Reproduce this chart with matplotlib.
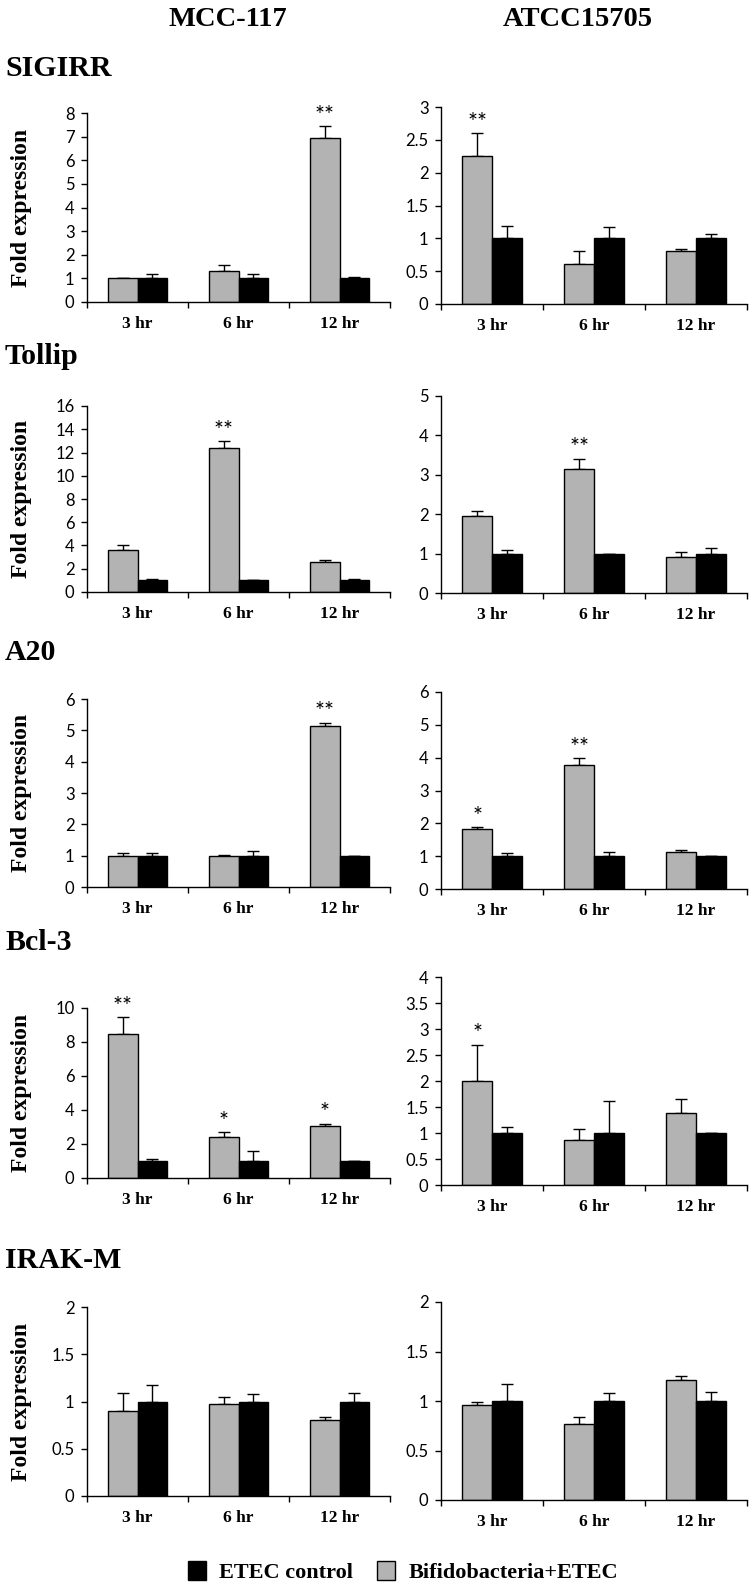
import numpy as np
import matplotlib
matplotlib.use("Agg")
import matplotlib.pyplot as plt
from matplotlib.patches import Patch
from matplotlib.ticker import FormatStrFormatter, MultipleLocator

# время отбора проб
timepoints = ["3 hr", "6 hr", "12 hr"]
genes = ["SIGIRR", "Tollip", "A20", "Bcl-3", "IRAK-M"]
strains = ["MCC-117", "ATCC15705"]

# SIGIRR
sigirr_mcc_bifido = [1.0, 1.33, 6.94]
sigirr_mcc_bifido_err = [0.0, 0.25, 0.5]
sigirr_mcc_etec = [1.0, 1.0, 1.0]
sigirr_mcc_etec_err = [0.2, 0.18, 0.06]
sigirr_mcc_stars = ["", "", "**"]
sigirr_atcc_bifido = [2.26, 0.61, 0.81]
sigirr_atcc_bifido_err = [0.34, 0.2, 0.03]
sigirr_atcc_etec = [1.0, 1.0, 1.0]
sigirr_atcc_etec_err = [0.19, 0.18, 0.07]
sigirr_atcc_stars = ["**", "", ""]

# Tollip
tollip_mcc_bifido = [3.6, 12.4, 2.54]
tollip_mcc_bifido_err = [0.43, 0.57, 0.2]
tollip_mcc_etec = [1.0, 1.0, 1.0]
tollip_mcc_etec_err = [0.08, 0.0, 0.14]
tollip_mcc_stars = ["", "**", ""]
tollip_atcc_bifido = [1.95, 3.14, 0.91]
tollip_atcc_bifido_err = [0.13, 0.27, 0.12]
tollip_atcc_etec = [1.0, 1.0, 1.0]
tollip_atcc_etec_err = [0.08, 0.0, 0.14]
tollip_atcc_stars = ["", "**", ""]

# A20
a20_mcc_bifido = [1.0, 0.98, 5.14]
a20_mcc_bifido_err = [0.1, 0.03, 0.11]
a20_mcc_etec = [1.0, 1.0, 1.0]
a20_mcc_etec_err = [0.08, 0.15, 0.0]
a20_mcc_stars = ["", "", "**"]
a20_atcc_bifido = [1.84, 3.79, 1.14]
a20_atcc_bifido_err = [0.04, 0.19, 0.05]
a20_atcc_etec = [1.0, 1.0, 1.0]
a20_atcc_etec_err = [0.09, 0.14, 0.0]
a20_atcc_stars = ["*", "**", ""]

# Bcl-3
bcl3_mcc_bifido = [8.45, 2.42, 3.03]
bcl3_mcc_bifido_err = [1.02, 0.28, 0.17]
bcl3_mcc_etec = [1.0, 1.0, 1.0]
bcl3_mcc_etec_err = [0.12, 0.6, 0.0]
bcl3_mcc_stars = ["**", "*", "*"]
bcl3_atcc_bifido = [2.0, 0.87, 1.39]
bcl3_atcc_bifido_err = [0.7, 0.2, 0.27]
bcl3_atcc_etec = [1.0, 1.0, 1.0]
bcl3_atcc_etec_err = [0.12, 0.61, 0.0]
bcl3_atcc_stars = ["*", "", ""]

# IRAK-M
irakm_mcc_bifido = [0.9, 0.97, 0.8]
irakm_mcc_bifido_err = [0.19, 0.08, 0.04]
irakm_mcc_etec = [1.0, 1.0, 1.0]
irakm_mcc_etec_err = [0.17, 0.08, 0.09]
irakm_mcc_stars = ["", "", ""]
irakm_atcc_bifido = [0.96, 0.77, 1.21]
irakm_atcc_bifido_err = [0.03, 0.07, 0.04]
irakm_atcc_etec = [1.0, 1.0, 1.0]
irakm_atcc_etec_err = [0.17, 0.08, 0.09]
irakm_atcc_stars = ["", "", ""]

# пределы и шаг оси y: (max, step)
ylims_mcc = [(8, 1), (16, 2), (6, 1), (10, 2), (2, 0.5)]
ylims_atcc = [(3, 0.5), (5, 1), (6, 1), (4, 0.5), (2, 0.5)]

panels = [
    [(sigirr_mcc_bifido, sigirr_mcc_bifido_err, sigirr_mcc_etec, sigirr_mcc_etec_err, sigirr_mcc_stars),
     (sigirr_atcc_bifido, sigirr_atcc_bifido_err, sigirr_atcc_etec, sigirr_atcc_etec_err, sigirr_atcc_stars)],
    [(tollip_mcc_bifido, tollip_mcc_bifido_err, tollip_mcc_etec, tollip_mcc_etec_err, tollip_mcc_stars),
     (tollip_atcc_bifido, tollip_atcc_bifido_err, tollip_atcc_etec, tollip_atcc_etec_err, tollip_atcc_stars)],
    [(a20_mcc_bifido, a20_mcc_bifido_err, a20_mcc_etec, a20_mcc_etec_err, a20_mcc_stars),
     (a20_atcc_bifido, a20_atcc_bifido_err, a20_atcc_etec, a20_atcc_etec_err, a20_atcc_stars)],
    [(bcl3_mcc_bifido, bcl3_mcc_bifido_err, bcl3_mcc_etec, bcl3_mcc_etec_err, bcl3_mcc_stars),
     (bcl3_atcc_bifido, bcl3_atcc_bifido_err, bcl3_atcc_etec, bcl3_atcc_etec_err, bcl3_atcc_stars)],
    [(irakm_mcc_bifido, irakm_mcc_bifido_err, irakm_mcc_etec, irakm_mcc_etec_err, irakm_mcc_stars),
     (irakm_atcc_bifido, irakm_atcc_bifido_err, irakm_atcc_etec, irakm_atcc_etec_err, irakm_atcc_stars)],
]

W, H = 756, 1590
SERIF = ["Liberation Serif", "DejaVu Serif"]
SANS = ["Lato", "DejaVu Sans"]
GRAY = "#b3b3b3"

# положение осей в пикселях: (лево, право), (верх, низ)
cols_px = [(87, 390), (441, 747)]
rows_px = [
    [(113, 302), (107, 304)],
    [(406, 592), (396, 593)],
    [(699, 887), (692, 889)],
    [(1008, 1178), (977, 1185)],
    [(1307, 1496), (1302, 1500)],
]
title_y = [68, 357, 652, 943, 1260]
col_title_x = [228, 578]

fig = plt.figure(figsize=(W / 100, H / 100), dpi=100)

for c, name in enumerate(strains):
    fig.text(col_title_x[c] / W, 1 - 20 / H, name, family=SERIF, weight="bold",
             fontsize=20.5, ha="center", va="center")

x = np.arange(len(timepoints)) + 0.5
bw = 0.29

for r, gene in enumerate(genes):
    fig.text(5 / W, 1 - title_y[r] / H, gene, family=SERIF, weight="bold",
             fontsize=21.5, ha="left", va="center")
    for c in range(2):
        (l, rr), (t, b) = cols_px[c], rows_px[r][c]
        ax = fig.add_axes([l / W, 1 - b / H, (rr - l) / W, (b - t) / H])
        bif, bif_err, etec, etec_err, stars = panels[r][c]
        ymax, step = (ylims_mcc if c == 0 else ylims_atcc)[r]

        ax.bar(x - bw / 2, bif, bw, color=GRAY, edgecolor="black", linewidth=1, zorder=2)
        ax.bar(x + bw / 2, etec, bw, color="black", edgecolor="black", linewidth=1, zorder=2)
        ax.errorbar(x - bw / 2, bif, yerr=[np.zeros(3), bif_err], fmt="none",
                    ecolor="black", elinewidth=1, capsize=4.5, capthick=1, zorder=1)
        ax.errorbar(x + bw / 2, etec, yerr=[np.zeros(3), etec_err], fmt="none",
                    ecolor="black", elinewidth=1, capsize=4.5, capthick=1, zorder=1)

        # звездочки значимости над столбцами
        for i, s in enumerate(stars):
            if s:
                ax.annotate(s, (x[i] - bw / 2, bif[i] + bif_err[i]), xytext=(0, 3),
                            textcoords="offset points", ha="center", va="baseline",
                            family=SANS, fontsize=17)

        ax.set_xlim(0, 3)
        ax.set_ylim(0, ymax)
        ax.yaxis.set_major_locator(MultipleLocator(step))
        ax.yaxis.set_major_formatter(FormatStrFormatter("%g"))
        ax.set_xticks([0, 1, 2, 3])
        ax.set_xticklabels([])
        ax.set_xticks(x, minor=True)
        ax.set_xticklabels(timepoints, minor=True, family=SERIF, weight="bold", fontsize=12.5)
        ax.tick_params(axis="x", which="minor", length=0, pad=10)
        ax.tick_params(axis="x", which="major", length=4, width=1, direction="out")
        ax.tick_params(axis="y", length=4, width=1, direction="out", pad=5, labelsize=12)
        for lab in ax.get_yticklabels():
            lab.set_family(SANS)
        for side in ["top", "right"]:
            ax.spines[side].set_visible(False)
        for side in ["left", "bottom"]:
            ax.spines[side].set_linewidth(1)

        if c == 0:
            fig.text(22 / W, 1 - (t + b) / 2 / H, "Fold expression", family=SERIF,
                     weight="bold", fontsize=17, rotation=90, ha="center", va="center")

handles = [Patch(facecolor="black", edgecolor="black", label="ETEC control"),
           Patch(facecolor=GRAY, edgecolor="black", label="Bifidobacteria+ETEC")]
fig.legend(handles=handles, loc="center", bbox_to_anchor=(403 / W, 1 - 1572 / H),
           ncol=2, frameon=False, handlelength=0.8, handleheight=0.9,
           handletextpad=0.6, columnspacing=1.1,
           prop={"family": SERIF, "weight": "bold", "size": 16})

fig.savefig("out.png", dpi=100)
